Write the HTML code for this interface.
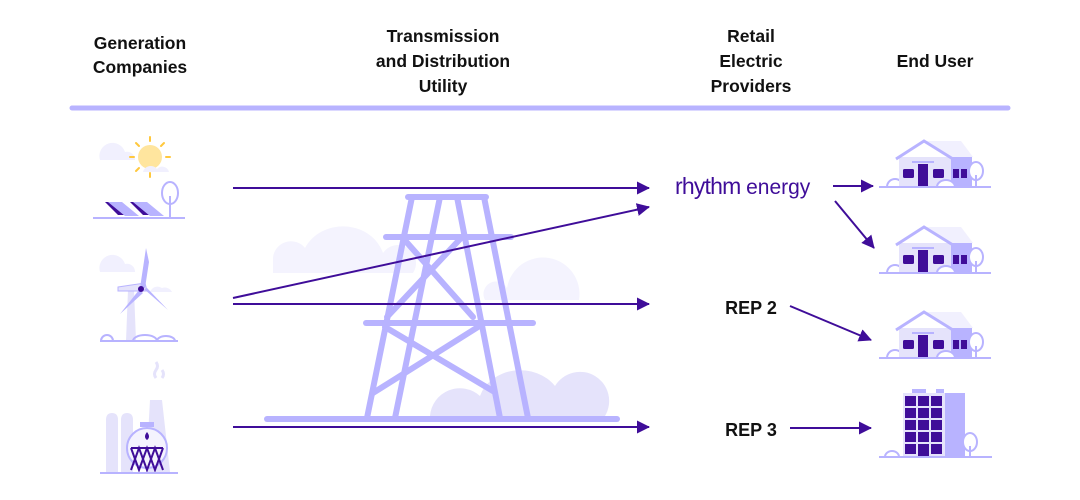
<!DOCTYPE html>
<html><head><meta charset="utf-8"><style>
html,body{margin:0;padding:0;background:#fff;}
svg{display:block}
text{font-family:"Liberation Sans",sans-serif;font-weight:bold;fill:#111;}
</style></head><body>
<svg width="1080" height="500" viewBox="0 0 1080 500" xmlns="http://www.w3.org/2000/svg">
<defs>
<marker id="ah" markerWidth="13" markerHeight="13" refX="12" refY="6.5" orient="auto" markerUnits="userSpaceOnUse" viewBox="0 0 13 13">
<path d="M0,0 L13,6.5 L0,13 z" fill="#3f0d99"/></marker>
<g id="house">
<path d="M8,0 a8,8 0 0 1 16,0" fill="#fff" stroke="#b8b3ff" stroke-width="2"/>
<polygon points="45,-46 82,-46 94,-30 72,-30" fill="#f1f0fe"/>
<rect x="20" y="-30" width="52" height="30" fill="#e5e3fb"/>
<rect x="72" y="-30" width="21" height="30" fill="#b8b3ff"/>
<polyline points="17,-28 45,-46 74,-28" fill="none" stroke="#b8b3ff" stroke-width="3"/>
<rect x="33" y="-26" width="22" height="2" fill="#b8b3ff"/>
<rect x="39" y="-23" width="10" height="23" fill="#3f0d99"/>
<rect x="24" y="-18" width="11" height="9" rx="1.5" fill="#3f0d99"/>
<rect x="54" y="-18" width="11" height="9" rx="1.5" fill="#3f0d99"/>
<rect x="74" y="-18" width="6" height="9" fill="#3f0d99"/>
<rect x="82" y="-18" width="6" height="9" fill="#3f0d99"/>
<path d="M58,0 a9,7 0 0 1 18,0" fill="#fff" stroke="#b8b3ff" stroke-width="2"/>
<ellipse cx="97" cy="-16" rx="7" ry="9" fill="#fff" stroke="#b8b3ff" stroke-width="2"/>
<line x1="97" y1="-12" x2="97" y2="0" stroke="#b8b3ff" stroke-width="2"/>
<line x1="0" y1="0" x2="112" y2="0" stroke="#b8b3ff" stroke-width="2"/>
</g>
</defs>

<!-- header -->
<g font-size="17.5" text-anchor="middle">
<text x="140" y="49">Generation</text>
<text x="140" y="73">Companies</text>
<text x="443" y="42">Transmission</text>
<text x="443" y="67">and Distribution</text>
<text x="443" y="92">Utility</text>
<text x="751" y="42">Retail</text>
<text x="751" y="67">Electric</text>
<text x="751" y="92">Providers</text>
<text x="935" y="67">End User</text>
</g>
<line x1="72" y1="108" x2="1008" y2="108" stroke="#b8b3ff" stroke-width="5" stroke-linecap="round"/>

<!-- clouds -->
<path d="M273,273 L273,258 a18,18 0 0 1 32,-10 a42,38 0 0 1 78,5 a18,18 0 0 1 30,20 z" fill="#f4f3fe"/>
<path d="M485,300 a12,12 0 0 1 22,-12 a36,36 0 0 1 72,12 z" fill="#f4f3fe"/>
<path d="M430,416 a30,30 0 0 1 50,-20 a42,36 0 0 1 75,-10 a28,28 0 0 1 50,30 z" fill="#e5e3fb"/>
<path d="M100,160 a10,10 0 0 1 25,-8 a8,8 0 0 1 10,8 z" fill="#f1f0fe"/>
<path d="M100,272 a10,10 0 0 1 25,-8 a8,8 0 0 1 10,8 z" fill="#f1f0fe"/>

<!-- tower -->
<g stroke="#b8b3ff" stroke-width="6" stroke-linecap="round" fill="none">
<line x1="267" y1="419" x2="617" y2="419"/>
<line x1="408" y1="197" x2="486" y2="197"/>
<line x1="412" y1="197" x2="367" y2="418"/>
<line x1="440" y1="197" x2="395" y2="418"/>
<line x1="457" y1="197" x2="500" y2="418"/>
<line x1="484" y1="197" x2="528" y2="418"/>
<line x1="386" y1="237" x2="511" y2="237"/>
<line x1="366" y1="323" x2="533" y2="323"/>
<line x1="402" y1="237" x2="473" y2="317"/>
<line x1="462" y1="237" x2="387" y2="317"/>
<line x1="385" y1="327" x2="493" y2="391"/>
<line x1="478" y1="327" x2="373" y2="393"/>
</g>

<!-- solar -->
<circle cx="150" cy="157" r="12" fill="#ffe59e"/>
<g stroke="#ffc83d" stroke-width="2" stroke-linecap="round">
<line x1="150" y1="137" x2="150" y2="141"/><line x1="150" y1="173" x2="150" y2="177"/>
<line x1="130" y1="157" x2="134" y2="157"/><line x1="166" y1="157" x2="170" y2="157"/>
<line x1="136" y1="143" x2="139" y2="146"/><line x1="161" y1="168" x2="164" y2="171"/>
<line x1="164" y1="143" x2="161" y2="146"/><line x1="136" y1="171" x2="139" y2="168"/>
</g>
<path d="M143,172 a8,8 0 0 1 14,-3 a7,7 0 0 1 12,3 z" fill="#f1f0fe"/>
<polygon points="105,202 112,202 125,215 118,215" fill="#3f0d99"/>
<polygon points="130,202 137,202 150,215 143,215" fill="#3f0d99"/>
<polygon points="108,202 122,202 139,216 125,216" fill="#b8b3ff"/>
<polygon points="133,202 147,202 164,216 150,216" fill="#b8b3ff"/>
<ellipse cx="170" cy="193" rx="8" ry="11" fill="#fff" stroke="#b8b3ff" stroke-width="2"/>
<line x1="170" y1="196" x2="170" y2="218" stroke="#b8b3ff" stroke-width="2"/>
<line x1="93" y1="218" x2="185" y2="218" stroke="#b8b3ff" stroke-width="2"/>

<!-- wind -->
<path d="M150,292 a8,8 0 0 1 12,-4 a8,8 0 0 1 10,4 z" fill="#f1f0fe"/>
<polygon points="128,290 134,290 136,341 126,341" fill="#e5e3fb"/>
<polygon points="118,287 145,283 147,291 118,291" fill="#e5e3fb" stroke="#b8b3ff" stroke-width="1"/>
<path d="M140,288 L146,248 L149,262 L145,288 z" fill="#b8b3ff"/>
<path d="M139,290 L120,314 L143,293 z" fill="#b8b3ff"/>
<path d="M144,289 L168,310 L147,288 z" fill="#b8b3ff"/>
<circle cx="141" cy="289" r="3" fill="#3f0d99"/>
<path d="M101,341 a6,6 0 0 1 12,0 M133,341 a12,6 0 0 1 24,0 M157,341 a9,5 0 0 1 18,0" fill="none" stroke="#b8b3ff" stroke-width="2"/>
<line x1="100" y1="341" x2="178" y2="341" stroke="#b8b3ff" stroke-width="2"/>

<!-- gas plant -->
<path d="M156,378 q-3,-4 0,-8 q3,-4 0,-8 M162,378 q3,-4 0,-8" fill="none" stroke="#e5e3fb" stroke-width="3"/>
<polygon points="150,400 162,400 170,472 146,472" fill="#e5e3fb"/>
<path d="M106,472 V420 q0,-7 6,-7 q6,0 6,7 V472 z" fill="#e5e3fb"/>
<path d="M121,472 V420 q0,-7 6,-7 q6,0 6,7 V472 z" fill="#e5e3fb"/>
<circle cx="147" cy="448" r="20" fill="#f4f3fe" stroke="#b8b3ff" stroke-width="2"/>
<rect x="140" y="422" width="14" height="5" fill="#b8b3ff"/>
<path d="M147,432 q-4,5 0,8 q4,-3 0,-8z" fill="#3f0d99"/>
<g stroke="#3f0d99" stroke-width="2" fill="none">
<line x1="131" y1="448" x2="163" y2="448"/>
<polyline points="131,470 139,448 147,470 155,448 163,470"/>
<polyline points="131,448 139,470 147,448 155,470 163,448"/>
</g>
<line x1="100" y1="473" x2="178" y2="473" stroke="#b8b3ff" stroke-width="2"/>

<!-- connectors -->
<g stroke="#3f0d99" stroke-width="2" fill="none" marker-end="url(#ah)">
<line x1="233" y1="188" x2="649" y2="188"/>
<line x1="233" y1="298" x2="649" y2="207"/>
<line x1="233" y1="304" x2="649" y2="304"/>
<line x1="233" y1="427" x2="649" y2="427"/>
<line x1="833" y1="186" x2="873" y2="186"/>
<line x1="835" y1="201" x2="874" y2="248"/>
<line x1="790" y1="306" x2="871" y2="340"/>
<line x1="790" y1="428" x2="871" y2="428"/>
</g>

<!-- providers -->
<text x="675" y="194" font-size="23" style="font-weight:normal;fill:#3f0d99;letter-spacing:-0.8px">rhythm <tspan font-size="21" style="letter-spacing:0">energy</tspan></text>
<text x="751" y="314" font-size="18" text-anchor="middle">REP 2</text>
<text x="751" y="436" font-size="18" text-anchor="middle">REP 3</text>

<!-- end users -->
<use href="#house" transform="translate(879,187)"/>
<use href="#house" transform="translate(879,273)"/>
<use href="#house" transform="translate(879,358)"/>
<!-- building -->
<rect x="912" y="389" width="14" height="4" fill="#b8b3ff"/>
<rect x="936" y="389" width="8" height="4" fill="#b8b3ff"/>
<rect x="903" y="393" width="42" height="64" fill="#e5e3fb"/>
<rect x="945" y="393" width="20" height="64" fill="#b8b3ff"/>
<g fill="#3f0d99">
<rect x="905" y="396" width="11" height="10"/><rect x="918" y="396" width="11" height="10"/><rect x="931" y="396" width="11" height="10"/>
<rect x="905" y="408" width="11" height="10"/><rect x="918" y="408" width="11" height="10"/><rect x="931" y="408" width="11" height="10"/>
<rect x="905" y="420" width="11" height="10"/><rect x="918" y="420" width="11" height="10"/><rect x="931" y="420" width="11" height="10"/>
<rect x="905" y="432" width="11" height="10"/><rect x="918" y="432" width="11" height="10"/><rect x="931" y="432" width="11" height="10"/>
<rect x="905" y="444" width="11" height="10"/><rect x="918" y="444" width="11" height="13"/><rect x="931" y="444" width="11" height="10"/>
</g>
<path d="M885,457 a7,6 0 0 1 14,0" fill="#fff" stroke="#b8b3ff" stroke-width="2"/>
<ellipse cx="970" cy="442" rx="7" ry="9" fill="#fff" stroke="#b8b3ff" stroke-width="2"/>
<line x1="970" y1="446" x2="970" y2="457" stroke="#b8b3ff" stroke-width="2"/>
<line x1="879" y1="457" x2="992" y2="457" stroke="#b8b3ff" stroke-width="2"/>
</svg>
</body></html>
